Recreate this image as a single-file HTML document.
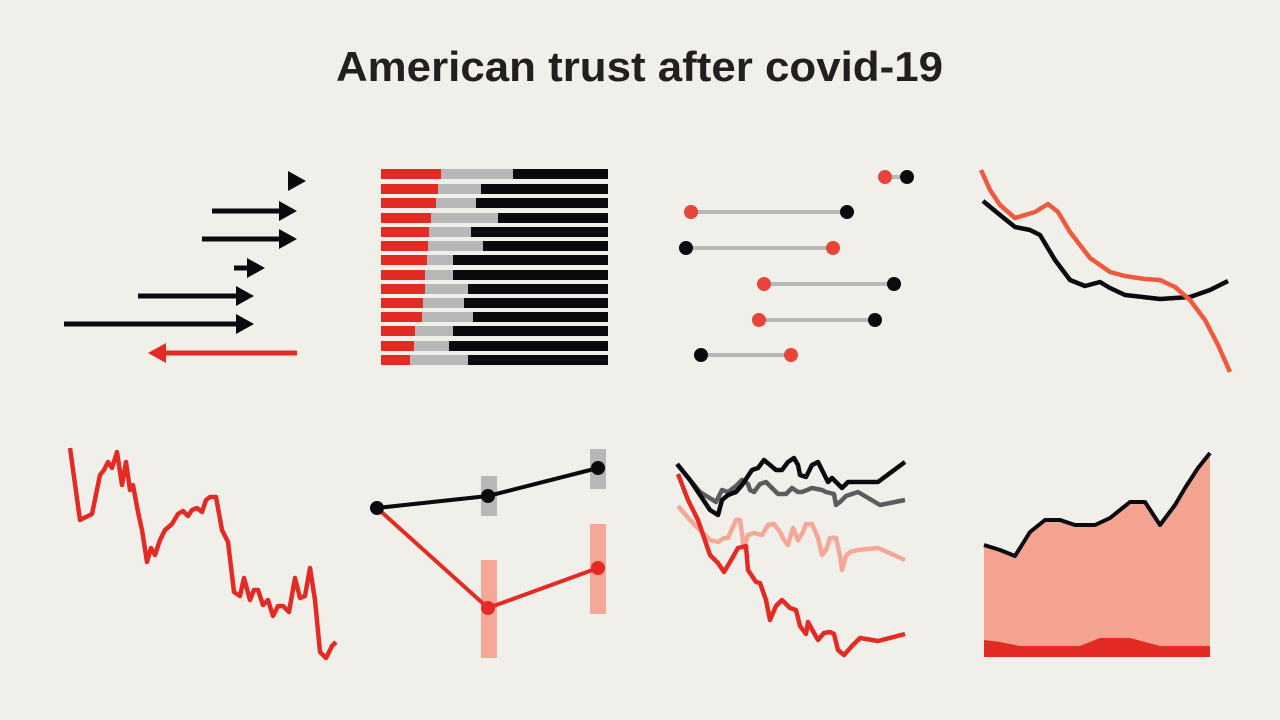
<!DOCTYPE html>
<html><head><meta charset="utf-8"><style>
html,body{margin:0;padding:0;background:#f0efea;}
svg{display:block}
</style></head><body>
<svg width="1280" height="720" viewBox="0 0 1280 720" xmlns="http://www.w3.org/2000/svg">
<rect width="1280" height="720" fill="#f0efea"/>
<text x="336" y="81" textLength="607" lengthAdjust="spacingAndGlyphs" font-family="Liberation Sans, sans-serif" font-weight="bold" font-size="42" fill="#231f20">American trust after covid-19</text>

<!-- Panel 1 arrows -->
<g fill="#0b0b0f" stroke="#0b0b0f" stroke-width="5">
<polygon points="288,171 306,181 288,191" stroke="none"/>
<line x1="212" y1="211" x2="282" y2="211"/><polygon points="279,201 297,211 279,221" stroke="none"/>
<line x1="202" y1="239" x2="282" y2="239"/><polygon points="279,229 297,239 279,249" stroke="none"/>
<line x1="234" y1="268" x2="250" y2="268"/><polygon points="247,258 265,268 247,278" stroke="none"/>
<line x1="138" y1="296" x2="240" y2="296"/><polygon points="236,286 254,296 236,306" stroke="none"/>
<line x1="64" y1="324" x2="240" y2="324"/><polygon points="236,314 254,324 236,334" stroke="none"/>
</g>
<line x1="163" y1="353" x2="297" y2="353" stroke="#e32b24" stroke-width="5"/>
<polygon points="166,343 148,353 166,363" fill="#e32b24"/>

<!-- Panel 2 bars -->
<g>
<rect x="381" y="169" width="227" height="10" fill="#0b0b0f"/><rect x="381" y="169" width="132" height="10" fill="#b7b7b7"/><rect x="381" y="169" width="60" height="10" fill="#e32b24"/>
<rect x="381" y="184" width="227" height="10" fill="#0b0b0f"/><rect x="381" y="184" width="100" height="10" fill="#b7b7b7"/><rect x="381" y="184" width="57" height="10" fill="#e32b24"/>
<rect x="381" y="198" width="227" height="10" fill="#0b0b0f"/><rect x="381" y="198" width="95" height="10" fill="#b7b7b7"/><rect x="381" y="198" width="55" height="10" fill="#e32b24"/>
<rect x="381" y="213" width="227" height="10" fill="#0b0b0f"/><rect x="381" y="213" width="117" height="10" fill="#b7b7b7"/><rect x="381" y="213" width="50" height="10" fill="#e32b24"/>
<rect x="381" y="227" width="227" height="10" fill="#0b0b0f"/><rect x="381" y="227" width="90" height="10" fill="#b7b7b7"/><rect x="381" y="227" width="48" height="10" fill="#e32b24"/>
<rect x="381" y="241" width="227" height="10" fill="#0b0b0f"/><rect x="381" y="241" width="102" height="10" fill="#b7b7b7"/><rect x="381" y="241" width="47" height="10" fill="#e32b24"/>
<rect x="381" y="255" width="227" height="10" fill="#0b0b0f"/><rect x="381" y="255" width="72" height="10" fill="#b7b7b7"/><rect x="381" y="255" width="46" height="10" fill="#e32b24"/>
<rect x="381" y="270" width="227" height="10" fill="#0b0b0f"/><rect x="381" y="270" width="72" height="10" fill="#b7b7b7"/><rect x="381" y="270" width="44" height="10" fill="#e32b24"/>
<rect x="381" y="284" width="227" height="10" fill="#0b0b0f"/><rect x="381" y="284" width="87" height="10" fill="#b7b7b7"/><rect x="381" y="284" width="44" height="10" fill="#e32b24"/>
<rect x="381" y="298" width="227" height="10" fill="#0b0b0f"/><rect x="381" y="298" width="83" height="10" fill="#b7b7b7"/><rect x="381" y="298" width="42" height="10" fill="#e32b24"/>
<rect x="381" y="312" width="227" height="10" fill="#0b0b0f"/><rect x="381" y="312" width="92" height="10" fill="#b7b7b7"/><rect x="381" y="312" width="41" height="10" fill="#e32b24"/>
<rect x="381" y="326" width="227" height="10" fill="#0b0b0f"/><rect x="381" y="326" width="72" height="10" fill="#b7b7b7"/><rect x="381" y="326" width="34" height="10" fill="#e32b24"/>
<rect x="381" y="341" width="227" height="10" fill="#0b0b0f"/><rect x="381" y="341" width="68" height="10" fill="#b7b7b7"/><rect x="381" y="341" width="33" height="10" fill="#e32b24"/>
<rect x="381" y="355" width="227" height="10" fill="#0b0b0f"/><rect x="381" y="355" width="87" height="10" fill="#b7b7b7"/><rect x="381" y="355" width="29" height="10" fill="#e32b24"/>
</g>

<!-- Panel 3 dumbbells -->
<g stroke="#b7b7b7" stroke-width="4">
<line x1="885" y1="177" x2="907" y2="177"/>
<line x1="691" y1="212" x2="847" y2="212"/>
<line x1="686" y1="248" x2="833" y2="248"/>
<line x1="764" y1="284" x2="894" y2="284"/>
<line x1="759" y1="320" x2="875" y2="320"/>
<line x1="701" y1="355" x2="791" y2="355"/>
</g>
<g fill="#e8443a">
<circle cx="885" cy="177" r="7"/><circle cx="691" cy="212" r="7"/><circle cx="833" cy="248" r="7"/><circle cx="764" cy="284" r="7"/><circle cx="759" cy="320" r="7"/><circle cx="791" cy="355" r="7"/>
</g>
<g fill="#0b0b0f">
<circle cx="907" cy="177" r="7"/><circle cx="847" cy="212" r="7"/><circle cx="686" cy="248" r="7"/><circle cx="894" cy="284" r="7"/><circle cx="875" cy="320" r="7"/><circle cx="701" cy="355" r="7"/>
</g>

<!-- Panel 4 -->
<g fill="none" stroke-width="4.5" stroke-linejoin="round">
<polyline stroke="#0b0b0f" points="983,201 1000,215 1015,227 1030,230 1040,235 1055,260 1070,280 1085,286 1100,282 1110,288 1125,295 1160,299 1190,297 1210,290 1228,281"/>
<polyline stroke="#f05a3c" points="981,170 990,190 1000,205 1015,218 1025,215 1035,212 1048,204 1058,212 1070,232 1090,258 1110,272 1125,276 1145,279 1160,280 1175,287 1190,300 1205,320 1218,345 1230,372"/>
</g>

<!-- Panel 5 -->
<polyline fill="none" stroke="#e32b24" stroke-width="4.5" stroke-linejoin="round" points="70,448 80,520 92,514 100,475 104,470 108,462 112,468 117,452 122,485 126,462 130,490 133,485 138,512 142,530 147,562 151,548 155,555 160,540 165,530 172,524 178,514 183,511 188,516 192,510 197,508 202,512 206,500 210,497 216,497 222,530 228,542 234,592 240,596 244,578 250,600 254,590 258,590 263,605 268,600 273,616 278,606 283,606 289,612 295,578 300,598 305,596 310,568 315,600 320,652 326,658 332,646 336,642"/>

<!-- Panel 6 -->
<rect x="481" y="476" width="16" height="40" fill="#b7b7b7"/>
<rect x="590" y="449" width="16" height="40" fill="#b7b7b7"/>
<rect x="481" y="560" width="16" height="98" fill="#f5a898"/>
<rect x="590" y="524" width="16" height="90" fill="#f5a898"/>
<polyline fill="none" stroke="#e32b24" stroke-width="4" points="377,508 488,608 598,568"/>
<polyline fill="none" stroke="#0b0b0f" stroke-width="4" points="377,508 488,496 598,468"/>
<circle cx="377" cy="508" r="7" fill="#0b0b0f"/><circle cx="488" cy="496" r="7" fill="#0b0b0f"/><circle cx="598" cy="468" r="7" fill="#0b0b0f"/>
<circle cx="488" cy="608" r="7" fill="#e32b24"/><circle cx="598" cy="568" r="7" fill="#e32b24"/>

<!-- Panel 7 -->
<g fill="none" stroke-width="4.5" stroke-linejoin="round">
<polyline stroke="#f5a898" points="678,506 690,520 700,530 710,540 718,542 724,538 728,538 736,520 740,520 744,548 748,535 754,533 762,535 768,525 774,524 780,532 784,540 788,545 793,528 798,540 803,532 806,524 812,524 818,538 822,555 826,550 830,538 836,538 840,556 842,570 846,556 850,552 858,550 878,548 905,560"/>
<polyline stroke="#5c5c60" points="678,465 690,480 700,492 716,502 722,490 728,492 736,486 742,480 748,484 750,490 754,492 760,484 766,482 772,488 778,494 786,494 792,488 798,492 802,492 812,488 822,490 826,492 834,494 836,505 840,502 846,496 858,492 880,505 905,500"/>
<polyline stroke="#0b0b0f" points="677,464 690,480 700,495 710,510 718,515 722,500 728,495 736,492 742,485 748,476 752,470 758,468 764,460 770,465 776,470 782,470 788,462 794,458 798,465 800,475 806,477 812,465 818,462 822,470 828,482 832,478 836,482 842,488 848,482 860,482 878,482 905,462"/>
<polyline stroke="#e32b24" points="678,474 688,500 698,520 710,555 718,563 724,572 730,562 738,548 746,546 748,570 756,582 760,583 766,600 770,620 776,606 782,600 790,608 796,610 800,626 806,634 808,622 814,633 818,640 824,633 830,632 834,634 838,650 844,655 852,646 860,638 878,641 905,634"/>
</g>

<!-- Panel 8 -->
<polygon fill="#f4a391" points="984,545 1000,550 1015,556 1030,532 1045,520 1060,520 1075,525 1095,525 1110,518 1130,502 1145,502 1160,525 1175,505 1185,488 1198,468 1210,453 1210,657 984,657"/>
<polygon fill="#e32b24" points="984,640 1000,642 1020,646 1050,646 1080,646 1100,638 1130,638 1160,646 1210,646 1210,657 984,657"/>
<polyline fill="none" stroke="#0b0b0f" stroke-width="4" stroke-linejoin="round" points="984,545 1000,550 1015,556 1030,532 1045,520 1060,520 1075,525 1095,525 1110,518 1130,502 1145,502 1160,525 1175,505 1185,488 1198,468 1210,453"/>
</svg>
</body></html>
